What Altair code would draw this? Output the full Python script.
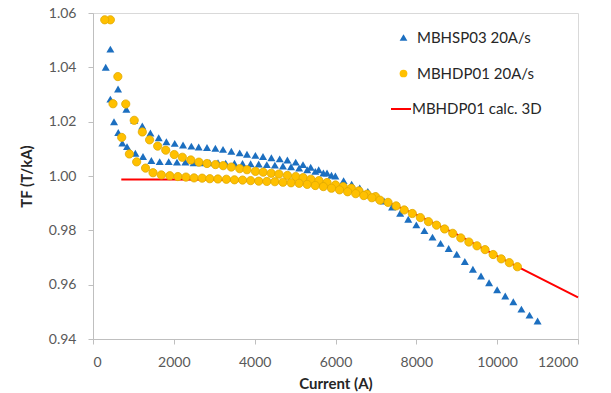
import altair as alt
import pandas as pd

# ---------------- data ----------------
PT_SERIES = ["MBHSP03 20A/s", "MBHDP01 20A/s"]
PT_COLORS = ["#1C6FC0", "#FFC000"]
PT_SHAPES = ["triangle-up", "circle"]
LINE_SERIES = ["MBHDP01 calc. 3D"]
LINE_COLORS = ["#FF0000"]

X_TICKS = [0, 2000, 4000, 6000, 8000, 10000, 12000]
Y_TICKS = [0.94, 0.96, 0.98, 1.00, 1.02, 1.04, 1.06]

# MBHSP03 20A/s  (triangles) - branch A (upper branch, then common descent)
hsp_a_current = [430, 620, 826, 1020, 1220, 1420, 1626, 1816, 2022, 2228, 2434, 2615,
                 2821, 3028, 3217, 3423, 3629, 3810, 4018, 4206, 4413, 4619, 4809,
                 5015, 5196, 5386, 5584, 5790, 5997, 6200, 6400, 6600, 6800, 7000,
                 7200, 7400, 7600, 7800, 8000, 8200, 8400, 8600, 8800, 9000, 9200,
                 9400, 9600, 9800, 10000, 10200, 10400, 10600, 10800, 11000]
hsp_a_tf = [1.0467, 1.0320, 1.0246, 1.0205, 1.0184, 1.0158, 1.0141, 1.0126, 1.0120,
            1.0114, 1.0110, 1.0107, 1.0105, 1.0102, 1.0098, 1.0091, 1.0085, 1.0080,
            1.0076, 1.0072, 1.0067, 1.0063, 1.0059, 1.0051, 1.0042, 1.0032, 1.0023,
            1.0011, 1.0000, 0.9983, 0.9970, 0.9956, 0.9943, 0.9928, 0.9908, 0.9886,
            0.9863, 0.9841, 0.9820, 0.9799, 0.9775, 0.9752, 0.9733, 0.9712, 0.9685,
            0.9657, 0.9632, 0.9607, 0.9581, 0.9558, 0.9537, 0.9510, 0.9488, 0.9466]

# MBHSP03 20A/s  (triangles) - branch B (lower branch)
hsp_b_current = [315, 430, 520, 625, 726, 842, 1048, 1237, 1444, 1650, 1873, 2078,
                 2286, 2491, 2682, 2887, 3093, 3283, 3500, 3700, 3900, 4100, 4300,
                 4500, 4700, 4900, 5100, 5300, 5500, 5700, 5900]
hsp_b_tf = [1.0400, 1.0283, 1.0200, 1.0160, 1.0121, 1.0108, 1.0084, 1.0072, 1.0057,
            1.0053, 1.0053, 1.0051, 1.0051, 1.0049, 1.0049, 1.0049, 1.0049, 1.0047,
            1.0047, 1.0046, 1.0045, 1.0044, 1.0042, 1.0040, 1.0037, 1.0034, 1.0029,
            1.0023, 1.0017, 1.0011, 1.0003]

# MBHDP01 20A/s  (circles) - branch A (upper branch)
hdp_a_current = [430, 615, 810, 1020, 1220, 1400, 1600, 1800, 2010, 2210, 2420, 2620,
                 2820, 3030, 3220, 3420, 3630, 3810, 4020, 4210, 4410, 4600, 4810,
                 5015, 5200, 5390, 5590, 5790, 6000, 6190, 6390, 6580, 6780, 6990]
hdp_a_tf = [1.0575, 1.0366, 1.0265, 1.0205, 1.0162, 1.0133, 1.0110, 1.0095, 1.0079,
            1.0069, 1.0059, 1.0051, 1.0046, 1.0042, 1.0038, 1.0033, 1.0027, 1.0023,
            1.0017, 1.0014, 1.0010, 1.0007, 1.0002, 0.9998, 0.9994, 0.9988, 0.9983,
            0.9976, 0.9967, 0.9961, 0.9955, 0.9945, 0.9933, 0.9924]

# MBHDP01 20A/s  (circles) - branch B (lower branch, then common descent)
hdp_b_current = [290, 495, 710, 900, 1080, 1300, 1485, 1690, 1900, 2100, 2300, 2500,
                 2700, 2890, 3090, 3300, 3500, 3700, 3900, 4100, 4300, 4500, 4700,
                 4900, 5100, 5300, 5500, 5700, 5900, 6100, 6300, 6500, 6700, 6900,
                 7100, 7300, 7500, 7700, 7900, 8100, 8300, 8500, 8700, 8900, 9100,
                 9300, 9500, 9700, 9900, 10100, 10300, 10500]
hdp_b_tf = [1.0575, 1.0266, 1.0142, 1.0081, 1.0052, 1.0029, 1.0012, 1.0004, 1.0001,
            0.9998, 0.9996, 0.9993, 0.9992, 0.9990, 0.9989, 0.9988, 0.9986, 0.9985,
            0.9983, 0.9981, 0.9980, 0.9979, 0.9977, 0.9975, 0.9973, 0.9969, 0.9965,
            0.9961, 0.9955, 0.9949, 0.9942, 0.9935, 0.9928, 0.9920, 0.9911, 0.9903,
            0.9890, 0.9875, 0.9862, 0.9847, 0.9832, 0.9819, 0.9805, 0.9789, 0.9772,
            0.9757, 0.9743, 0.9729, 0.9711, 0.9695, 0.9681, 0.9666]

# MBHDP01 calc. 3D  (red line)
calc_current = [700, 1000, 2000, 3000, 4000, 5000, 6000, 7000, 8000, 9000, 10000,
                10500, 12000]
calc_tf = [0.9987, 0.9987, 0.9987, 0.9986, 0.9982, 0.9975, 0.9958, 0.9922, 0.9858,
           0.9785, 0.9705, 0.9666, 0.9553]

# ---------------- tables ----------------
hsp_df = pd.DataFrame({
    "current": hsp_a_current + hsp_b_current,
    "tf": hsp_a_tf + hsp_b_tf,
    "series": PT_SERIES[0],
})
hdp_df = pd.DataFrame({
    "current": hdp_a_current + hdp_b_current,
    "tf": hdp_a_tf + hdp_b_tf,
    "series": PT_SERIES[1],
})
calc_df = pd.DataFrame({"current": calc_current, "tf": calc_tf, "series": LINE_SERIES[0]})

FONT = "Lato"

x_enc = alt.X(
    "current:Q",
    scale=alt.Scale(domain=[0, 12000], nice=False, zero=False),
    axis=alt.Axis(values=X_TICKS, format="d", title="Current (A)",
                  labelPadding=11, tickSize=5, titlePadding=7),
)
y_enc = alt.Y(
    "tf:Q",
    scale=alt.Scale(domain=[0.94, 1.06], nice=False, zero=False),
    axis=alt.Axis(values=Y_TICKS, format=".2f", title="TF (T/kA)",
                  labelPadding=12, tickSize=5, titlePadding=14),
)

pt_legend = alt.Legend(
    title=None,
    orient="none",
    legendX=303,
    legendY=17,
    padding=0,
    symbolSize=60,
    symbolStrokeWidth=0,
    rowPadding=20,
    labelOffset=6,
    labelFont=FONT,
    labelFontSize=15,
    labelColor="#262626",
)
line_legend = alt.Legend(
    title=None,
    orient="none",
    legendX=297,
    legendY=85,
    padding=0,
    symbolType="stroke",
    symbolSize=400,
    symbolStrokeWidth=2,
    labelOffset=0,
    labelFont=FONT,
    labelFontSize=15,
    labelColor="#262626",
)

color_enc = alt.Color("series:N", scale=alt.Scale(domain=PT_SERIES, range=PT_COLORS),
                      legend=pt_legend)
shape_enc = alt.Shape("series:N", scale=alt.Scale(domain=PT_SERIES, range=PT_SHAPES),
                      legend=pt_legend)
stroke_enc = alt.Stroke("series:N", scale=alt.Scale(domain=LINE_SERIES, range=LINE_COLORS),
                        legend=line_legend)

calc_line = alt.Chart(calc_df).mark_line(strokeWidth=2).encode(
    x=x_enc, y=y_enc, stroke=stroke_enc
)
hsp_pts = alt.Chart(hsp_df).mark_point(filled=True, size=64, opacity=1).encode(
    x=x_enc, y=y_enc, color=color_enc, shape=shape_enc
)
hdp_pts = alt.Chart(hdp_df).mark_point(
    filled=True, size=68, opacity=1, stroke="#E0A800", strokeWidth=0.8
).encode(x=x_enc, y=y_enc, color=color_enc, shape=shape_enc)

chart = (
    alt.layer(calc_line, hsp_pts, hdp_pts)
    .properties(
        width=485,
        height=326,
        autosize=alt.AutoSizeParams(type="none"),
        padding={"left": 85, "top": 5, "right": 17, "bottom": 54},
        background="white",
    )
    .configure_view(stroke="#D9D9D9", strokeWidth=1)
    .configure_axis(
        grid=False,
        domainColor="#BFBFBF",
        tickColor="#BFBFBF",
        labelFont=FONT,
        labelFontSize=14,
        labelColor="#595959",
        titleFont=FONT,
        titleFontSize=15,
        titleFontWeight="bold",
        titleColor="#262626",
    )
)

chart.save("out.html", embed_options={"renderer": "svg", "actions": False})
